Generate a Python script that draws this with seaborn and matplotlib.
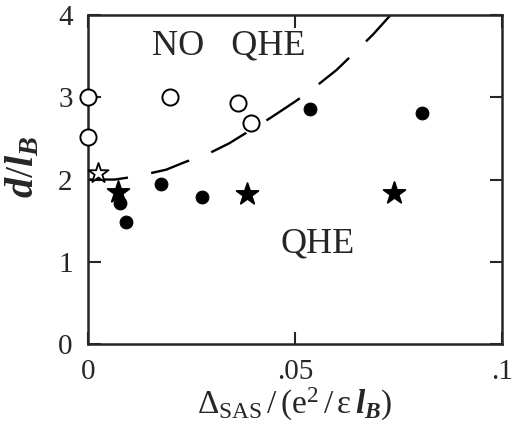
import numpy as np
import pandas as pd
import matplotlib
matplotlib.use("Agg")
import matplotlib.pyplot as plt
import seaborn as sns

# ==========================
# data
# ==========================
open_circ_x = [0.0, 0.0, 0.0197, 0.0362, 0.0393]
open_circ_y = [3.00, 2.52, 3.00, 2.93, 2.69]

fill_circ_x = [0.0077, 0.0093, 0.0177, 0.0276, 0.0537, 0.0806]
fill_circ_y = [1.72, 1.48, 1.95, 1.79, 2.86, 2.81]

fill_star_x = [0.0072, 0.0384, 0.0739]
fill_star_y = [1.85, 1.82, 1.84]

open_star_x = [0.0024]
open_star_y = [2.08]

# phase boundary (dashed)
bound_x = [0.0, 0.0065, 0.0118, 0.0189, 0.0233, 0.0297, 0.0341, 0.0441,
           0.0501, 0.0540, 0.0600, 0.0633, 0.0688, 0.0731]
bound_y = [2.00, 2.00, 2.04, 2.12, 2.21, 2.33, 2.44, 2.75,
           2.95, 3.09, 3.33, 3.49, 3.76, 4.00]

xticks = [0, 0.05, 0.1]
xticklabels = ["0", ".05", ".1"]
yticks = [0, 1, 2, 3, 4]
yticklabels = ["0", "1", "2", "3", "4"]

# ==========================
# style
# ==========================
sns.set_style("ticks")
plt.rcParams["font.family"] = ["Liberation Serif", "DejaVu Serif"]
plt.rcParams["mathtext.fontset"] = "custom"
plt.rcParams["mathtext.rm"] = "Liberation Serif"
plt.rcParams["mathtext.it"] = "Liberation Serif:italic:bold"
plt.rcParams["mathtext.bf"] = "Liberation Serif:bold"

fig = plt.figure(figsize=(5.13, 4.28), dpi=100)
ax = fig.add_axes([0.1715, 0.196, 0.807, 0.769])

# ==========================
# plot
# ==========================
sns.lineplot(x=bound_x, y=bound_y, sort=False, ax=ax, color="black",
             linewidth=1.7, dashes=False, estimator=None)
ax.lines[-1].set_dashes([17, 10])

sns.scatterplot(x=open_circ_x, y=open_circ_y, ax=ax, marker="o", s=135,
                facecolor="white", edgecolor="black", linewidth=1.4,
                clip_on=False, zorder=3)
sns.scatterplot(x=fill_circ_x, y=fill_circ_y, ax=ax, marker="o", s=85,
                color="black", edgecolor="black", clip_on=False, zorder=3)
sns.scatterplot(x=fill_star_x, y=fill_star_y, ax=ax, marker="*", s=270,
                color="black", edgecolor="black", clip_on=False, zorder=3)
sns.scatterplot(x=open_star_x, y=open_star_y, ax=ax, marker="*", s=230,
                facecolor="white", edgecolor="black", linewidth=1.3,
                clip_on=False, zorder=4)

# ==========================
# axes
# ==========================
ax.set_xlim(0, 0.1)
ax.set_ylim(0, 4)
ax.set_xticks(xticks)
ax.set_xticklabels(xticklabels)
ax.set_yticks(yticks)
ax.set_yticklabels(yticklabels)
ax.tick_params(direction="in", length=9, width=1.5, labelsize=21,
               top=True, right=True, pad=11)
for sp in ax.spines.values():
    sp.set_visible(True)
    sp.set_linewidth(1.8)

ax.set_xlabel(r"$\Delta_{\mathrm{SAS}}\,/\,(\mathrm{e}^2\,/\,\mathrm{\epsilon}\,l_B)$",
              fontsize=24)
ax.xaxis.set_label_coords(0.5, -0.128)
ax.set_ylabel(r"$d/l_B$", fontsize=29)
ax.yaxis.set_label_coords(-0.11, 0.54)

ax.text(0.0155, 3.62, "NO   QHE", fontsize=26, ha="left", va="center")
ax.text(0.0555, 1.22, "QHE", fontsize=26, ha="center", va="center")

plt.savefig("out.png", dpi=100)
